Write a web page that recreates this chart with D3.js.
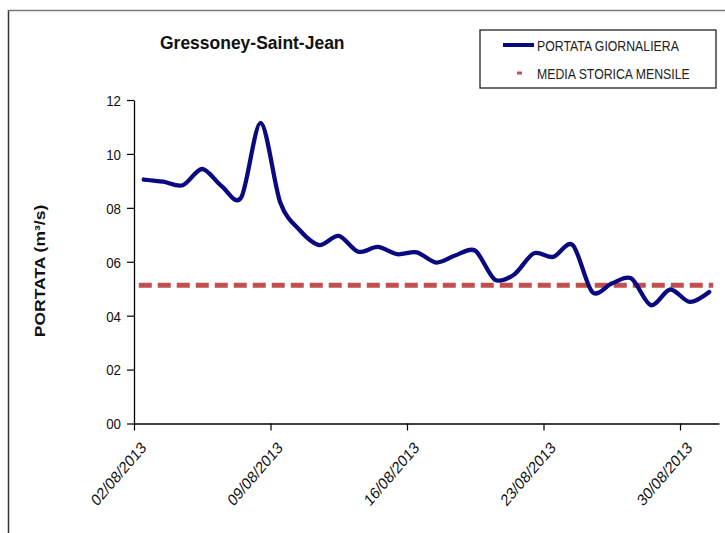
<!DOCTYPE html>
<html><head><meta charset="utf-8">
<script src="https://cdn.jsdelivr.net/npm/d3@7"></script>
<style>
html,body{margin:0;padding:0;background:#fff;}
svg{display:block;font-family:"Liberation Sans",Arial,sans-serif;}
</style></head>
<body>
<svg id="chart" width="725" height="533"></svg>
<script>
// ---- data ----
const days = ["2013-08-02","2013-08-03","2013-08-04","2013-08-05","2013-08-06","2013-08-07","2013-08-08",
  "2013-08-09","2013-08-10","2013-08-11","2013-08-12","2013-08-13","2013-08-14","2013-08-15",
  "2013-08-16","2013-08-17","2013-08-18","2013-08-19","2013-08-20","2013-08-21","2013-08-22",
  "2013-08-23","2013-08-24","2013-08-25","2013-08-26","2013-08-27","2013-08-28","2013-08-29",
  "2013-08-30","2013-08-31"];
const portata = [9.05, 8.97, 8.84, 9.44, 8.80, 8.39, 11.15, 8.20, 7.17, 6.62,
  6.96, 6.37, 6.55, 6.28, 6.35, 5.97, 6.24, 6.41, 5.34, 5.53,
  6.31, 6.18, 6.62, 4.88, 5.19, 5.38, 4.39, 4.97, 4.51, 4.88];
const mediaStorica = 5.13;
const yTicks = [0, 2, 4, 6, 8, 10, 12];
const xTickDays = ["2013-08-02","2013-08-09","2013-08-16","2013-08-23","2013-08-30"];
const titleText = "Gressoney-Saint-Jean";
const yTitle = "PORTATA (m³/s)";
const legendLabels = ["PORTATA GIORNALIERA", "MEDIA STORICA MENSILE"];

// ---- layout ----
const S = 0.86; // horizontal squeeze of text
const parse = d3.utcParse("%Y-%m-%d");
const fmt = d3.utcFormat("%d/%m/%Y");
const dates = days.map(parse);
const svg = d3.select("#chart");

const x = d3.scaleUtc()
  .domain([dates[0], d3.utcDay.offset(dates[dates.length-1], 1)])
  .range([134, 719]);
const y = d3.scaleLinear().domain([0, 12]).range([423.5, 100]);
const mid = d => d3.utcHour.offset(d, 12);

// outer frame
svg.append("line").attr("x1",8.5).attr("x2",8.5).attr("y1",10).attr("y2",533)
  .attr("stroke","#333").attr("stroke-width",1.5);
svg.append("line").attr("x1",8).attr("x2",725).attr("y1",10.5).attr("y2",10.5)
  .attr("stroke","#777").attr("stroke-width",1.5);

// axes
const yAxis = svg.append("g").attr("transform","translate(134,0)")
  .call(d3.axisLeft(y).tickValues(yTicks).tickFormat(d3.format("02d")).tickSize(7).tickSizeOuter(0));
yAxis.select(".domain").attr("stroke","#000").attr("stroke-width",1.3);
yAxis.selectAll(".tick line").attr("stroke","#000").attr("stroke-width",1.2);
yAxis.selectAll(".tick text").attr("x",0).attr("dy",null).attr("y",0)
  .attr("dominant-baseline","central")
  .attr("transform",`translate(-13,0) scale(${S},1)`)
  .style("font-size","15.5px").style("font-family","'Liberation Sans',Arial,sans-serif").attr("fill","#111");

const xAxis = svg.append("g").attr("transform","translate(0,423.5)")
  .call(d3.axisBottom(x).tickValues(xTickDays.map(parse)).tickFormat(fmt).tickSize(7).tickSizeOuter(0));
xAxis.select(".domain").attr("stroke","#000").attr("stroke-width",1.3);
xAxis.selectAll(".tick line").attr("stroke","#000").attr("stroke-width",1.2);
xAxis.selectAll(".tick text").attr("x",0).attr("y",0).attr("dy",null)
  .attr("dominant-baseline","central")
  .style("text-anchor","end")
  .attr("transform",`translate(9,21) scale(${S},1) rotate(-45)`)
  .style("font-size","16.5px").style("font-family","'Liberation Sans',Arial,sans-serif").attr("fill","#111");

// mean line
svg.append("line")
  .attr("x1", x(mid(dates[0]))-5).attr("x2", x(mid(dates[dates.length-1]))+4)
  .attr("y1", y(mediaStorica)).attr("y2", y(mediaStorica))
  .attr("stroke","#C0504D").attr("stroke-width",5).attr("stroke-dasharray","13,6");

// daily flow line
const line = d3.line().x((d,i)=>x(mid(dates[i]))).y(d=>y(d)).curve(d3.curveCardinal.tension(0.1));
svg.append("path").datum(portata).attr("d",line)
  .attr("fill","none").attr("stroke","#0A0A80").attr("stroke-width",4.3)
  .attr("stroke-linejoin","round").attr("stroke-linecap","round");

// title
svg.append("text").attr("transform",`translate(160,49) scale(${S+0.06},1)`)
  .style("font-size","19px").style("font-weight","bold").attr("fill","#111").text(titleText);

// y title
svg.append("text").attr("transform",`translate(45,271) scale(${S},1) rotate(-90)`)
  .attr("text-anchor","middle")
  .style("font-size","17.5px").style("font-weight","bold").attr("fill","#111").text(yTitle);

// legend
const lg = svg.append("g");
lg.append("rect").attr("x",480).attr("y",30).attr("width",236).attr("height",58)
  .attr("fill","#fff").attr("stroke","#222").attr("stroke-width",1.3);
lg.append("line").attr("x1",503).attr("x2",534).attr("y1",45).attr("y2",45)
  .attr("stroke","#0A0A80").attr("stroke-width",4);
lg.append("line").attr("x1",517).attr("x2",522).attr("y1",73).attr("y2",73)
  .attr("stroke","#C0504D").attr("stroke-width",3);
legendLabels.forEach((t,i)=>{
  lg.append("text").attr("transform",`translate(537,${50.5+i*28}) scale(${S},1)`)
    .style("font-size","14.3px").attr("fill","#222").text(t);
});
</script>
</body></html>
